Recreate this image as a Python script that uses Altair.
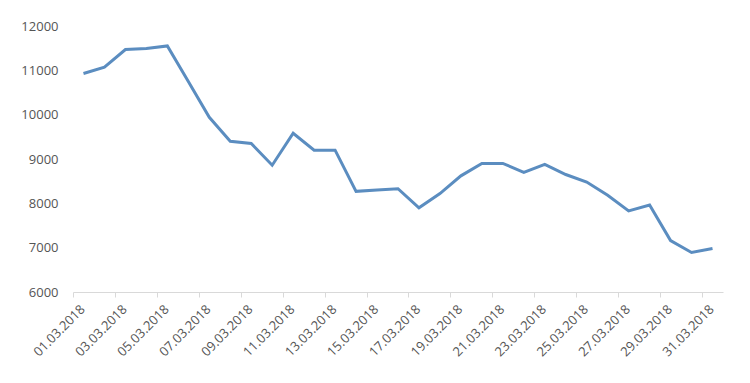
import altair as alt
import pandas as pd

dates = [f"2018-03-{d:02d}" for d in range(1, 32)]
values = [10930, 11070, 11470, 11490, 11550, 10750, 9940, 9400, 9350, 8860,
          9580, 9200, 9200, 8270, 8300, 8330, 7900, 8220, 8620, 8900,
          8900, 8700, 8880, 8650, 8480, 8180, 7830, 7960, 7160, 6890, 6980]
y_ticks = [6000, 7000, 8000, 9000, 10000, 11000, 12000]

df = pd.DataFrame({"date": dates, "value": values})

tick_dates = [alt.DateTime(year=2018, month=3, date=d, utc=True) for d in range(1, 32, 2)]
half_band = 650 / 31 / 2

chart = alt.Chart(df).mark_line(color="#5b8dc0", strokeWidth=3).encode(
    x=alt.X(
        "date:T",
        scale=alt.Scale(
            type="utc",
            domain=[alt.DateTime(year=2018, month=2, date=28, hours=12, utc=True),
                    alt.DateTime(year=2018, month=3, date=31, hours=12, utc=True)],
            nice=False,
        ),
        axis=alt.Axis(
            title=None,
            values=tick_dates,
            format="%d.%m.%Y",
            labelAngle=315,
            labelAlign="right",
            labelBaseline="middle",
            tickOffset=-half_band,
            labelOffset=half_band - 1,
            tickSize=5,
            labelPadding=10,
            domainColor="#d9d9d9",
            tickColor="#d9d9d9",
            grid=False,
            labelFlush=False,
            labelOverlap=False,
        ),
    ),
    y=alt.Y(
        "value:Q",
        scale=alt.Scale(domain=[6000, 12000], nice=False, zero=False),
        axis=alt.Axis(
            title=None,
            values=y_ticks,
            format="d",
            domain=False,
            ticks=False,
            grid=False,
            labelPadding=15,
        ),
    ),
).properties(
    width=650,
    height=266,
    autosize=alt.AutoSizeParams(type="none"),
    padding={"left": 65, "top": 18, "right": 19, "bottom": 83},
).configure_view(stroke=None).configure_axis(
    labelFont="Open Sans",
    labelFontSize=13,
    labelColor="#555555",
)

chart.save("out.html", embed_options={"renderer": "svg", "actions": False})
